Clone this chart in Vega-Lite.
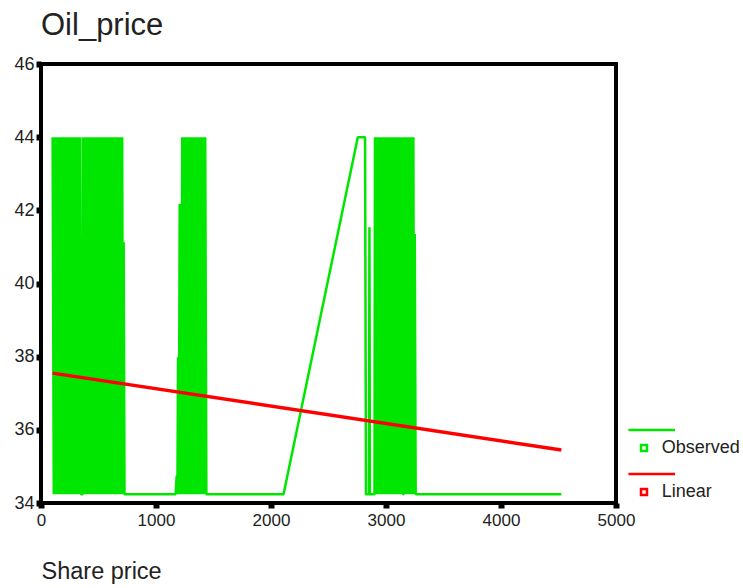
{
  "$schema": "https://vega.github.io/schema/vega-lite/v6.json",
  "width": 575,
  "height": 439,
  "autosize": {"type": "none"},
  "padding": {"left": 41, "top": 64, "right": 127, "bottom": 85},
  "background": "white",
  "title": {"text": "Oil_price", "anchor": "start", "frame": "group", "fontSize": 31, "fontWeight": "normal", "color": "#222", "baseline": "alphabetic", "offset": -11},
  "datasets": {
    "observed": [
      {"x":101,"y":44,"s":"Observed"},{"x":111,"y":34.24,"s":"Observed"},{"x":121,"y":44,"s":"Observed"},{"x":131,"y":34.24,"s":"Observed"},{"x":141,"y":44,"s":"Observed"},{"x":151,"y":34.24,"s":"Observed"},{"x":161,"y":44,"s":"Observed"},{"x":171,"y":34.24,"s":"Observed"},{"x":181,"y":44,"s":"Observed"},{"x":191,"y":34.24,"s":"Observed"},{"x":201,"y":44,"s":"Observed"},{"x":211,"y":34.24,"s":"Observed"},{"x":221,"y":44,"s":"Observed"},{"x":231,"y":34.24,"s":"Observed"},{"x":241,"y":44,"s":"Observed"},{"x":251,"y":34.24,"s":"Observed"},{"x":261,"y":44,"s":"Observed"},{"x":271,"y":34.24,"s":"Observed"},{"x":281,"y":44,"s":"Observed"},{"x":291,"y":34.24,"s":"Observed"},{"x":301,"y":44,"s":"Observed"},{"x":311,"y":34.24,"s":"Observed"},{"x":321,"y":44,"s":"Observed"},{"x":331,"y":34.24,"s":"Observed"},{"x":341,"y":44,"s":"Observed"},
      {"x":348,"y":34.24,"s":"Observed"},{"x":362,"y":34.24,"s":"Observed"},
      {"x":366,"y":44,"s":"Observed"},{"x":376,"y":34.24,"s":"Observed"},{"x":386,"y":44,"s":"Observed"},{"x":396,"y":34.24,"s":"Observed"},{"x":406,"y":44,"s":"Observed"},{"x":416,"y":34.24,"s":"Observed"},{"x":426,"y":44,"s":"Observed"},{"x":436,"y":34.24,"s":"Observed"},{"x":446,"y":44,"s":"Observed"},{"x":456,"y":34.24,"s":"Observed"},{"x":466,"y":44,"s":"Observed"},{"x":476,"y":34.24,"s":"Observed"},{"x":486,"y":44,"s":"Observed"},{"x":496,"y":34.24,"s":"Observed"},{"x":506,"y":44,"s":"Observed"},{"x":516,"y":34.24,"s":"Observed"},{"x":526,"y":44,"s":"Observed"},{"x":536,"y":34.24,"s":"Observed"},{"x":546,"y":44,"s":"Observed"},{"x":556,"y":34.24,"s":"Observed"},{"x":566,"y":44,"s":"Observed"},{"x":576,"y":34.24,"s":"Observed"},{"x":586,"y":44,"s":"Observed"},{"x":596,"y":34.24,"s":"Observed"},{"x":606,"y":44,"s":"Observed"},{"x":616,"y":34.24,"s":"Observed"},{"x":626,"y":44,"s":"Observed"},{"x":636,"y":34.24,"s":"Observed"},{"x":646,"y":44,"s":"Observed"},{"x":656,"y":34.24,"s":"Observed"},{"x":666,"y":44,"s":"Observed"},{"x":676,"y":34.24,"s":"Observed"},{"x":686,"y":44,"s":"Observed"},{"x":696,"y":34.24,"s":"Observed"},{"x":706,"y":44,"s":"Observed"},
      {"x":713,"y":34.24,"s":"Observed"},{"x":719,"y":41.13,"s":"Observed"},{"x":726,"y":34.24,"s":"Observed"},{"x":1170,"y":34.24,"s":"Observed"},
      {"x":1180,"y":34.74,"s":"Observed"},{"x":1186,"y":34.24,"s":"Observed"},{"x":1192,"y":37.99,"s":"Observed"},{"x":1198,"y":34.24,"s":"Observed"},{"x":1206,"y":42.17,"s":"Observed"},{"x":1214,"y":39.03,"s":"Observed"},{"x":1220,"y":34.24,"s":"Observed"},
      {"x":1228,"y":44,"s":"Observed"},{"x":1238,"y":34.24,"s":"Observed"},{"x":1248,"y":44,"s":"Observed"},{"x":1258,"y":34.24,"s":"Observed"},{"x":1268,"y":44,"s":"Observed"},{"x":1278,"y":34.24,"s":"Observed"},{"x":1288,"y":44,"s":"Observed"},{"x":1298,"y":34.24,"s":"Observed"},{"x":1308,"y":44,"s":"Observed"},{"x":1318,"y":34.24,"s":"Observed"},{"x":1328,"y":44,"s":"Observed"},{"x":1338,"y":34.24,"s":"Observed"},{"x":1348,"y":44,"s":"Observed"},{"x":1358,"y":34.24,"s":"Observed"},{"x":1368,"y":44,"s":"Observed"},{"x":1378,"y":34.24,"s":"Observed"},{"x":1388,"y":44,"s":"Observed"},{"x":1398,"y":34.24,"s":"Observed"},{"x":1408,"y":44,"s":"Observed"},{"x":1418,"y":34.24,"s":"Observed"},{"x":1428,"y":44,"s":"Observed"},{"x":1438,"y":34.24,"s":"Observed"},
      {"x":2109,"y":34.24,"s":"Observed"},{"x":2755,"y":44,"s":"Observed"},{"x":2818,"y":44,"s":"Observed"},{"x":2826,"y":34.24,"s":"Observed"},{"x":2852,"y":34.24,"s":"Observed"},{"x":2856,"y":41.54,"s":"Observed"},{"x":2860,"y":34.24,"s":"Observed"},{"x":2900,"y":34.24,"s":"Observed"},
      {"x":2904,"y":44,"s":"Observed"},{"x":2914,"y":34.24,"s":"Observed"},{"x":2924,"y":44,"s":"Observed"},{"x":2934,"y":34.24,"s":"Observed"},{"x":2944,"y":44,"s":"Observed"},{"x":2954,"y":34.24,"s":"Observed"},{"x":2964,"y":44,"s":"Observed"},{"x":2974,"y":34.24,"s":"Observed"},{"x":2984,"y":44,"s":"Observed"},{"x":2994,"y":34.24,"s":"Observed"},{"x":3004,"y":44,"s":"Observed"},{"x":3014,"y":34.24,"s":"Observed"},{"x":3024,"y":44,"s":"Observed"},{"x":3034,"y":34.24,"s":"Observed"},{"x":3044,"y":44,"s":"Observed"},{"x":3054,"y":34.24,"s":"Observed"},{"x":3064,"y":44,"s":"Observed"},{"x":3074,"y":34.24,"s":"Observed"},{"x":3084,"y":44,"s":"Observed"},{"x":3094,"y":34.24,"s":"Observed"},{"x":3104,"y":44,"s":"Observed"},{"x":3114,"y":34.24,"s":"Observed"},{"x":3124,"y":44,"s":"Observed"},{"x":3134,"y":34.24,"s":"Observed"},{"x":3144,"y":44,"s":"Observed"},
      {"x":3148,"y":34.24,"s":"Observed"},{"x":3154,"y":34.24,"s":"Observed"},
      {"x":3158,"y":44,"s":"Observed"},{"x":3168,"y":34.24,"s":"Observed"},{"x":3178,"y":44,"s":"Observed"},{"x":3188,"y":34.24,"s":"Observed"},{"x":3198,"y":44,"s":"Observed"},{"x":3208,"y":34.24,"s":"Observed"},{"x":3218,"y":44,"s":"Observed"},{"x":3228,"y":34.24,"s":"Observed"},{"x":3238,"y":44,"s":"Observed"},
      {"x":3244,"y":34.24,"s":"Observed"},{"x":3250,"y":41.35,"s":"Observed"},{"x":3258,"y":34.24,"s":"Observed"},{"x":4525,"y":34.24,"s":"Observed"}
    ],
    "linear": [
      {"x":100,"y":37.55,"s":"Linear"},
      {"x":4525,"y":35.45,"s":"Linear"}
    ]
  },
  "layer": [
    {
      "data": {"name": "observed"},
      "mark": {"type": "line", "strokeWidth": 2.5, "strokeJoin": "bevel"},
      "encoding": {
        "x": {"field": "x", "type": "quantitative", "scale": {"domain": [0, 5000], "nice": false},
          "axis": {"values": [0, 1000, 2000, 3000, 4000, 5000], "format": "d", "labelPadding": 4, "title": "Share price", "titleAnchor": "start", "titleAlign": "left", "titleFontSize": 23.5, "titleFontWeight": "normal", "titleColor": "#222", "titlePadding": 31, "labelFlush": false}},
        "y": {"field": "y", "type": "quantitative", "scale": {"domain": [34, 46], "nice": false, "zero": false},
          "axis": {"values": [34, 36, 38, 40, 42, 44, 46], "labelPadding": 2, "labelFontSize": 18, "title": null}},
        "color": {"field": "s", "type": "nominal", "scale": {"domain": ["Observed", "Linear"], "range": ["#00e600", "#ff0000"]},
          "legend": {"title": null, "orient": "none", "legendX": 594, "legendY": 375, "padding": 0,
            "symbolType": "M-3.9,-4.5H7.75M-0.75,-0.75H0.75V0.75H-0.75Z", "symbolSize": 64, "symbolStrokeWidth": 2.5,
            "labelFontSize": 18, "labelColor": "#222", "labelOffset": 8.7, "rowPadding": 12}}
      }
    },
    {
      "data": {"name": "linear"},
      "mark": {"type": "line", "strokeWidth": 3.5},
      "encoding": {
        "x": {"field": "x", "type": "quantitative"},
        "y": {"field": "y", "type": "quantitative"},
        "color": {"field": "s", "type": "nominal"}
      }
    }
  ],
  "resolve": {"scale": {"color": "shared"}},
  "config": {
    "font": "Liberation Sans",
    "view": {"stroke": "#000", "strokeWidth": 4},
    "axis": {"domain": false, "grid": false, "tickColor": "#000", "tickWidth": 6, "tickSize": 5, "labelColor": "#222", "labelFontSize": 17, "labelFontWeight": "normal"}
  }
}
